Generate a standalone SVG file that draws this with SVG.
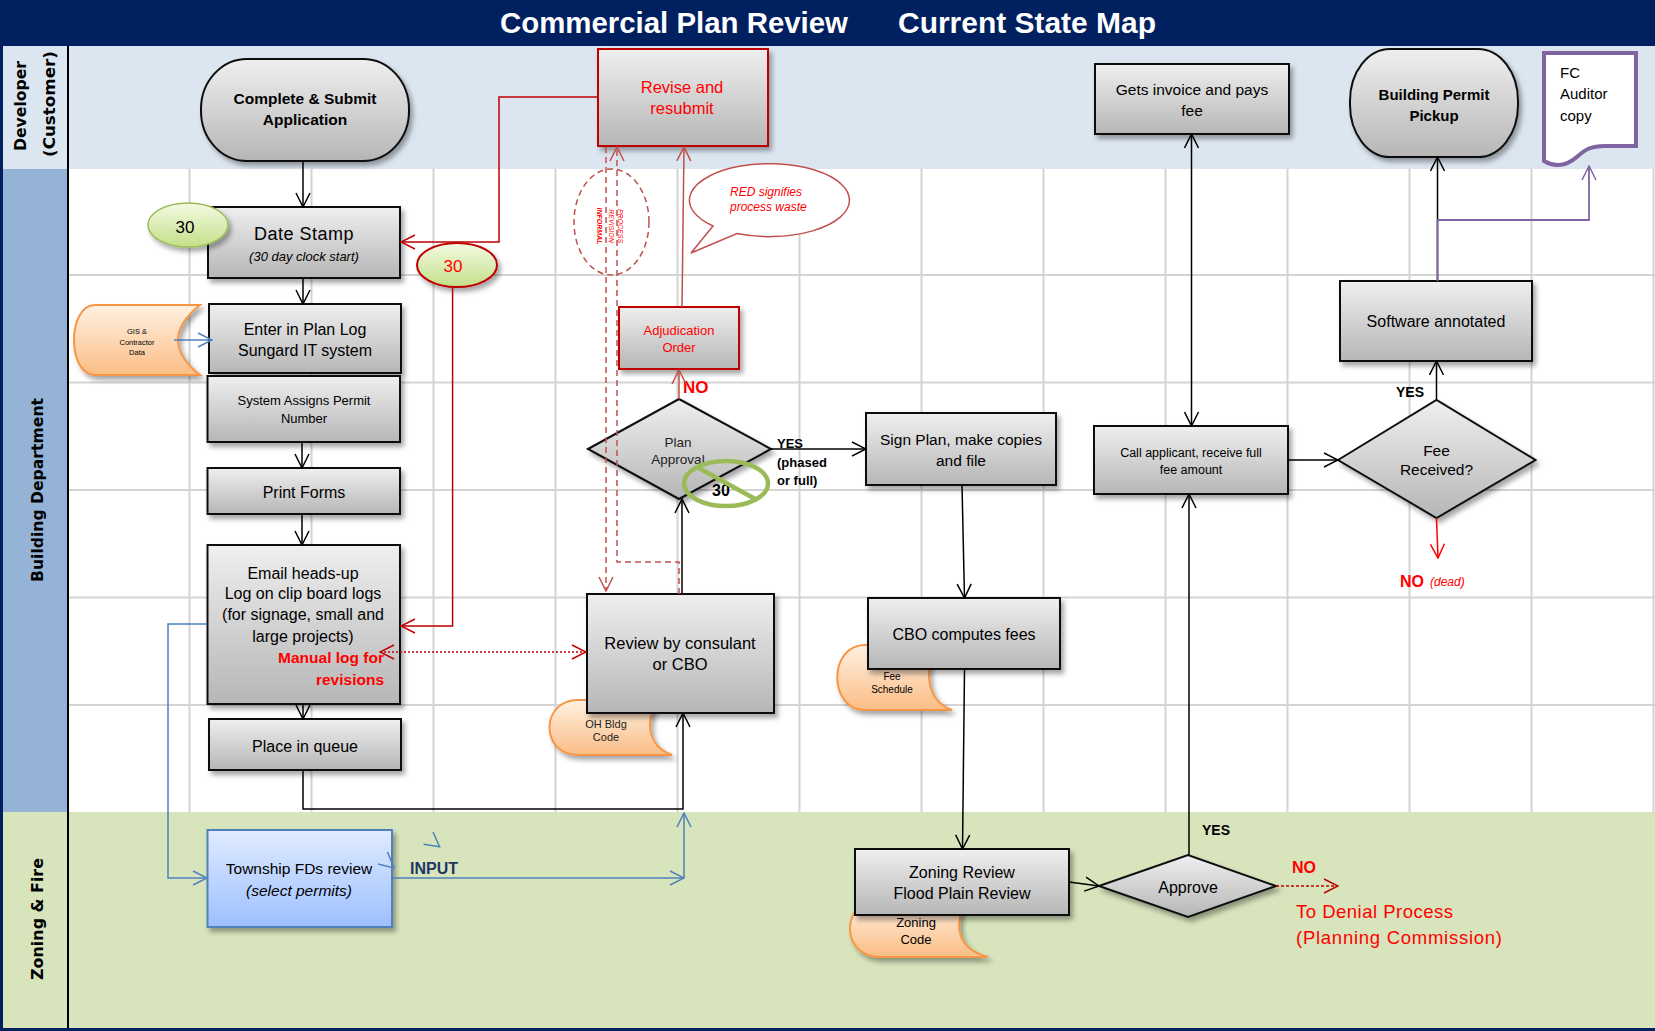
<svg xmlns="http://www.w3.org/2000/svg" width="1655" height="1031" viewBox="0 0 1655 1031">
<defs>
<linearGradient id="gBox" x1="0" y1="0" x2="0" y2="1"><stop offset="0" stop-color="#efefef"/><stop offset="1" stop-color="#b6b6b6"/></linearGradient>
<linearGradient id="gGreen" x1="0" y1="0" x2="0" y2="1"><stop offset="0" stop-color="#f4fae2"/><stop offset="1" stop-color="#c3df8a"/></linearGradient>
<linearGradient id="gOrange" x1="0" y1="0" x2="0" y2="1"><stop offset="0" stop-color="#fff1e2"/><stop offset="1" stop-color="#fbbd85"/></linearGradient>
<linearGradient id="gBlue" x1="0" y1="0" x2="0" y2="1"><stop offset="0" stop-color="#e0ebff"/><stop offset="1" stop-color="#9dbfff"/></linearGradient>
<filter id="sh" x="-10%" y="-10%" width="130%" height="140%"><feDropShadow dx="3" dy="4" stdDeviation="2.5" flood-color="#000" flood-opacity="0.35"/></filter>
<marker id="mk" viewBox="0 0 16 16" refX="15" refY="8" markerWidth="16" markerHeight="16" markerUnits="userSpaceOnUse" orient="auto-start-reverse"><path d="M1,1 L15,8 L1,15" fill="none" stroke="#000" stroke-width="1.5"/></marker>
<marker id="mkR" viewBox="0 0 16 16" refX="15" refY="8" markerWidth="16" markerHeight="16" markerUnits="userSpaceOnUse" orient="auto-start-reverse"><path d="M1,1 L15,8 L1,15" fill="none" stroke="#c00000" stroke-width="1.5"/></marker>
<marker id="mkRL" viewBox="0 0 16 16" refX="15" refY="8" markerWidth="16" markerHeight="16" markerUnits="userSpaceOnUse" orient="auto-start-reverse"><path d="M1,1 L15,8 L1,15" fill="none" stroke="#c0504d" stroke-width="1.5"/></marker>
<marker id="mkRB" viewBox="0 0 16 16" refX="15" refY="8" markerWidth="16" markerHeight="16" markerUnits="userSpaceOnUse" orient="auto-start-reverse"><path d="M1,1 L15,8 L1,15" fill="none" stroke="#ff0000" stroke-width="1.5"/></marker>
<marker id="mkB" viewBox="0 0 16 16" refX="15" refY="8" markerWidth="16" markerHeight="16" markerUnits="userSpaceOnUse" orient="auto-start-reverse"><path d="M1,1 L15,8 L1,15" fill="none" stroke="#4f81bd" stroke-width="1.5"/></marker>
<marker id="mkP" viewBox="0 0 16 16" refX="15" refY="8" markerWidth="16" markerHeight="16" markerUnits="userSpaceOnUse" orient="auto-start-reverse"><path d="M1,1 L15,8 L1,15" fill="none" stroke="#8064a2" stroke-width="1.5"/></marker>
<style>
text{font-family:"Liberation Sans",Arial,sans-serif;fill:#000;}
.box{fill:url(#gBox);stroke:#111;stroke-width:2;filter:url(#sh);}
.rbox{fill:url(#gBox);stroke:#c00000;stroke-width:2;filter:url(#sh);}
.data{fill:url(#gOrange);stroke:#f79646;stroke-width:2;filter:url(#sh);}
.c{text-anchor:middle;}
.b{font-weight:bold;}
.i{font-style:italic;}
.red{fill:#ff0000;}
.lane{font-family:"DejaVu Sans",sans-serif;font-weight:bold;font-size:16px;text-anchor:middle;}
.grid{stroke:#d4d4d4;stroke-width:2;}
.cn{fill:none;stroke:#000;stroke-width:1.5;}
.cr{fill:none;stroke:#c00000;stroke-width:1.5;}
.crl{fill:none;stroke:#c0504d;stroke-width:1.5;}
.cb{fill:none;stroke:#4f81bd;stroke-width:1.5;}
</style>
</defs>

<g id="background">
<rect x="0" y="0" width="1655" height="46" fill="#002060"/>
<rect x="0" y="46" width="1655" height="123" fill="#dce6f1"/>
<rect x="0" y="169" width="1655" height="643" fill="#ffffff"/>
<rect x="0" y="169" width="68" height="643" fill="#95b3d7"/>
<rect x="0" y="812" width="1655" height="216" fill="#d7e4bc"/>
<rect x="0" y="1028" width="1655" height="3" fill="#002060"/>
<rect x="0" y="46" width="3" height="985" fill="#002060"/>
<text x="500" y="33" font-size="29" font-weight="bold" style="fill:#fff" textLength="348" lengthAdjust="spacingAndGlyphs">Commercial Plan Review</text>
<text x="898" y="33" font-size="29" font-weight="bold" style="fill:#fff" textLength="258" lengthAdjust="spacingAndGlyphs">Current State Map</text>
</g>

<g id="grid">
<line class="grid" x1="189.5" y1="169" x2="189.5" y2="812"/>
<line class="grid" x1="311.5" y1="169" x2="311.5" y2="812"/>
<line class="grid" x1="433.5" y1="169" x2="433.5" y2="812"/>
<line class="grid" x1="555.5" y1="169" x2="555.5" y2="812"/>
<line class="grid" x1="677.5" y1="169" x2="677.5" y2="812"/>
<line class="grid" x1="799.5" y1="169" x2="799.5" y2="812"/>
<line class="grid" x1="921.5" y1="169" x2="921.5" y2="812"/>
<line class="grid" x1="1043.5" y1="169" x2="1043.5" y2="812"/>
<line class="grid" x1="1165.5" y1="169" x2="1165.5" y2="812"/>
<line class="grid" x1="1287.5" y1="169" x2="1287.5" y2="812"/>
<line class="grid" x1="1409.5" y1="169" x2="1409.5" y2="812"/>
<line class="grid" x1="1531.5" y1="169" x2="1531.5" y2="812"/>
<line class="grid" x1="1653.5" y1="169" x2="1653.5" y2="812"/>
<line class="grid" x1="69" y1="275" x2="1655" y2="275"/>
<line class="grid" x1="69" y1="382.5" x2="1655" y2="382.5"/>
<line class="grid" x1="69" y1="490" x2="1655" y2="490"/>
<line class="grid" x1="69" y1="597.5" x2="1655" y2="597.5"/>
<line class="grid" x1="69" y1="705" x2="1655" y2="705"/>
</g>

<g id="lane-headers">
<line x1="68" y1="46" x2="68" y2="1028" stroke="#000" stroke-width="2"/>
<text class="lane" transform="translate(26,106) rotate(-90)" textLength="90" lengthAdjust="spacingAndGlyphs">Developer</text>
<text class="lane" transform="translate(55,104) rotate(-90)" textLength="106" lengthAdjust="spacingAndGlyphs">(Customer)</text>
<text class="lane" transform="translate(43,490) rotate(-90)" font-size="17" textLength="184" lengthAdjust="spacingAndGlyphs">Building Department</text>
<text class="lane" transform="translate(43,919) rotate(-90)" font-size="17" textLength="122" lengthAdjust="spacingAndGlyphs">Zoning  &amp; Fire</text>
</g>

<g id="node-complete-submit">
<rect class="box" x="201" y="59" width="208" height="102" rx="46" ry="50"/>
<text class="c b" x="305" y="104" font-size="15.5">Complete &amp; Submit</text>
<text class="c b" x="305" y="125" font-size="15.5">Application</text>
</g>

<g id="node-date-stamp">
<rect class="box" x="208" y="207" width="192" height="71"/>
<text class="c" x="304" y="239.5" font-size="18" letter-spacing="0.5">Date Stamp</text>
<text class="c i" x="304" y="261" font-size="13">(30 day clock start)</text>
</g>

<g id="node-30-green">
<ellipse cx="188" cy="225" rx="40" ry="22" fill="url(#gGreen)" stroke="#9bbb59" stroke-width="1.5" filter="url(#sh)"/>
<text class="c" x="185" y="233" font-size="17">30</text>
</g>

<g id="node-30-red">
<ellipse cx="457" cy="265" rx="40" ry="22" fill="url(#gGreen)" stroke="#c00000" stroke-width="2" filter="url(#sh)"/>
<text class="c red" x="453" y="272" font-size="17">30</text>
</g>

<g id="node-gis-data">
<path class="data" d="M95,305 H200 Q156,340 200,375 H95 C67,375 67,305 95,305 Z"/>
<text class="c" x="137" y="334" font-size="7.5">GIS &amp;</text>
<text class="c" x="137" y="344.5" font-size="7.5">Contractor</text>
<text class="c" x="137" y="355" font-size="7.5">Data</text>
</g>

<g id="node-enter-plan-log">
<rect class="box" x="209" y="304" width="192" height="69"/>
<text class="c" x="305" y="334.5" font-size="16">Enter in Plan Log</text>
<text class="c" x="305" y="355.5" font-size="16">Sungard IT system</text>
</g>

<g id="node-system-assigns">
<rect class="box" x="207.5" y="376" width="192.5" height="66"/>
<text class="c" x="304" y="405" font-size="13">System  Assigns Permit</text>
<text class="c" x="304" y="422.5" font-size="13">Number</text>
</g>

<g id="node-print-forms">
<rect class="box" x="207.5" y="468" width="192.5" height="46"/>
<text class="c" x="304" y="497.5" font-size="16">Print Forms</text>
</g>

<g id="node-email">
<rect class="box" x="207.5" y="545" width="192.5" height="159"/>
<text class="c" x="303" y="578.5" font-size="16">Email heads-up</text>
<text class="c" x="303" y="598.5" font-size="16">Log on clip board logs</text>
<text class="c" x="303" y="619.5" font-size="16">(for signage, small and</text>
<text class="c" x="303" y="641.5" font-size="16">large projects)</text>
<text class="b red" x="384" y="662.5" font-size="15.5" text-anchor="end">Manual log for</text>
<text class="b red" x="384" y="684.5" font-size="15.5" text-anchor="end">revisions</text>
</g>

<g id="node-place-queue">
<rect class="box" x="209" y="719" width="192" height="51"/>
<text class="c" x="305" y="751.5" font-size="16">Place in queue</text>
</g>

<g id="node-township">
<rect x="207.5" y="830" width="184.5" height="97" fill="url(#gBlue)" stroke="#4f81bd" stroke-width="2" filter="url(#sh)"/>
<text class="c" x="299" y="873.5" font-size="15.5">Township FDs review</text>
<text class="c i" x="299" y="895.5" font-size="15.5">(select permits)</text>
</g>

<g id="label-input">
<text class="b" x="410" y="873.5" font-size="16" style="fill:#1f3864">INPUT</text>
</g>

<g id="node-revise">
<rect class="rbox" x="598" y="49" width="170" height="97"/>
<text class="c red" x="682" y="93" font-size="16.5">Revise and</text>
<text class="c red" x="682" y="114" font-size="16.5">resubmit</text>
</g>

<g id="node-informal">
<ellipse cx="611.5" cy="222" rx="37.5" ry="53" fill="none" stroke="#c0504d" stroke-width="1.5" stroke-dasharray="6,4"/>
<text class="c b i red" transform="translate(597,226) rotate(90)" font-size="7">INFORMAL</text>
<text class="c i red" transform="translate(608.5,226) rotate(90)" font-size="7">REVISION</text>
<text class="c i red" transform="translate(618,226) rotate(90)" font-size="7">PROCESS</text>
</g>

<g id="node-red-note">
<path d="M713,226 L691,253 L737,233.5 A80,36.5 0 1 0 713,226 Z" fill="#fff" stroke="#c0504d" stroke-width="1.5"/>
<text class="i red" x="730" y="196" font-size="12">RED signifies</text>
<text class="i red" x="730" y="211" font-size="12">process waste</text>
</g>

<g id="node-adjudication">
<rect class="rbox" x="619" y="307" width="120" height="62"/>
<text class="c red" x="679" y="334.5" font-size="13">Adjudication</text>
<text class="c red" x="679" y="351.5" font-size="13">Order</text>
</g>

<g id="node-plan-approval">
<polygon class="box" points="588,449 679,399 771,449 679,499"/>
<text class="c" x="678" y="446.5" font-size="13.5" style="fill:#222">Plan</text>
<text class="c" x="678" y="463.5" font-size="13.5" style="fill:#222">Approval</text>
</g>

<g id="node-no-30">
<ellipse cx="726" cy="483.5" rx="42" ry="22.5" fill="none" stroke="#9bbb59" stroke-width="4.5"/>
<text class="c b" x="721" y="496" font-size="16">30</text>
<line x1="697" y1="467" x2="757" y2="500" stroke="#9bbb59" stroke-width="4.5"/>
</g>

<g id="label-yes-phased">
<text class="b" x="777" y="448" font-size="13">YES</text>
<text class="b" x="777" y="466.5" font-size="13">(phased</text>
<text class="b" x="777" y="485" font-size="13">or full)</text>
</g>

<g id="label-no-plan">
<text class="b red" x="683" y="392.5" font-size="17">NO</text>
</g>

<g id="node-oh-bldg">
<path class="data" d="M578,700 H660 C645,715 645,745 672,755 H578 C540,755 540,700 578,700 Z"/>
<text class="c" x="606" y="728" font-size="11" style="fill:#222">OH Bldg</text>
<text class="c" x="606" y="740.5" font-size="11" style="fill:#222">Code</text>
</g>

<g id="node-review">
<rect class="box" x="587" y="594" width="187" height="119"/>
<text class="c" x="680" y="649" font-size="16.5">Review by consulant</text>
<text class="c" x="680" y="670" font-size="16.5">or CBO</text>
</g>

<g id="node-sign-plan">
<rect class="box" x="866" y="413" width="190" height="72"/>
<text class="c" x="961" y="444.5" font-size="15.5">Sign Plan, make copies</text>
<text class="c" x="961" y="465.5" font-size="15.5">and file</text>
</g>

<g id="node-fee-schedule">
<path class="data" d="M865,645 H935 C925,670 925,700 952,710 H865 C828,710 828,645 865,645 Z"/>
<text class="c" x="892" y="680" font-size="10">Fee</text>
<text class="c" x="892" y="692.5" font-size="10">Schedule</text>
</g>

<g id="node-cbo-fees">
<rect class="box" x="868" y="598" width="192" height="71"/>
<text class="c" x="964" y="640" font-size="16">CBO computes fees</text>
</g>

<g id="node-zoning-code">
<path class="data" d="M880,900 H965 C955,925 955,948 988,957 H880 C840,957 840,900 880,900 Z"/>
<text class="c" x="916" y="927" font-size="13">Zoning</text>
<text class="c" x="916" y="943.5" font-size="13">Code</text>
</g>

<g id="node-zoning-review">
<rect class="box" x="855" y="849" width="214" height="66"/>
<text class="c" x="962" y="877.5" font-size="16">Zoning Review</text>
<text class="c" x="962" y="898.5" font-size="16">Flood Plain Review</text>
</g>

<g id="node-approve">
<polygon class="box" points="1099,886 1188,855 1276,886 1188,917"/>
<text class="c" x="1188" y="892.5" font-size="16">Approve</text>
</g>

<g id="label-approve-outcomes">
<text class="b" x="1202" y="834.5" font-size="14">YES</text>
<text class="b red" x="1292" y="873" font-size="16">NO</text>
<text class="red" x="1296" y="918" font-size="18.5" textLength="157">To Denial Process</text>
<text class="red" x="1296" y="944" font-size="18.5" textLength="206">(Planning Commission)</text>
</g>

<g id="node-gets-invoice">
<rect class="box" x="1095" y="64" width="194" height="70"/>
<text class="c" x="1192" y="94.5" font-size="15.5">Gets invoice and pays</text>
<text class="c" x="1192" y="115.5" font-size="15.5">fee</text>
</g>

<g id="node-call-applicant">
<rect class="box" x="1094" y="426" width="194" height="68"/>
<text class="c" x="1191" y="456.5" font-size="12.5">Call applicant, receive  full</text>
<text class="c" x="1191" y="473.5" font-size="12.5">fee amount</text>
</g>

<g id="node-fee-received">
<polygon class="box" points="1338,460 1436.5,400 1535.5,460 1436.5,518"/>
<text class="c" x="1436.5" y="455.5" font-size="15.5">Fee</text>
<text class="c" x="1436.5" y="474.5" font-size="15.5">Received?</text>
</g>

<g id="label-fee-outcomes">
<text class="b" x="1396" y="396.5" font-size="14">YES</text>
<text class="b red" x="1400" y="586.5" font-size="16">NO</text>
<text class="i red" x="1430" y="586" font-size="12">(dead)</text>
</g>

<g id="node-software">
<rect class="box" x="1340" y="281" width="192" height="80"/>
<text class="c" x="1436" y="326.5" font-size="16">Software annotated</text>
</g>

<g id="node-permit-pickup">
<rect class="box" x="1350" y="49" width="168" height="108" rx="40" ry="52"/>
<text class="c b" x="1434" y="99.5" font-size="15">Building Permit</text>
<text class="c b" x="1434" y="120.5" font-size="15">Pickup</text>
</g>

<g id="node-fc-auditor">
<path d="M1544,53 H1636 V146 H1605 C1590,146 1585,150 1578,156 C1568,165 1556,168 1544,161 Z" fill="#fff" stroke="#8064a2" stroke-width="4"/>
<text x="1560" y="78" font-size="15">FC</text>
<text x="1560" y="99" font-size="15">Auditor</text>
<text x="1560" y="121" font-size="15">copy</text>
</g>

<g id="connectors">
<path class="cn" d="M303,161 V207" marker-end="url(#mk)"/>
<path class="cn" d="M303,278 V304" marker-end="url(#mk)"/>
<path class="cn" d="M302,442 V468" marker-end="url(#mk)"/>
<path class="cn" d="M302,514 V545" marker-end="url(#mk)"/>
<path class="cn" d="M303,704 V719" marker-end="url(#mk)"/>
<path class="cn" d="M303,770 V809 H683 V713" marker-end="url(#mk)"/>
<path class="cn" d="M682,594 V499" marker-end="url(#mk)"/>
<path class="cn" d="M771,449 H866" marker-end="url(#mk)"/>
<path class="cn" d="M962,485 L964.5,598" marker-end="url(#mk)"/>
<path class="cn" d="M964.5,669 L962.5,849" marker-end="url(#mk)"/>
<path class="cn" d="M1069,882 L1099,886" marker-end="url(#mk)"/>
<path class="cn" d="M1189,855 V494" marker-end="url(#mk)"/>
<path class="cn" d="M1191.5,134 V426" marker-start="url(#mk)" marker-end="url(#mk)"/>
<path class="cn" d="M1288,460 H1338" marker-end="url(#mk)"/>
<path class="cn" d="M1436.5,400 V361" marker-end="url(#mk)"/>
<path class="cn" d="M1437.5,281 V157" marker-end="url(#mk)"/>
<path d="M1437.5,281 V220 H1589 V166" fill="none" stroke="#8064a2" stroke-width="1.8" marker-end="url(#mkP)"/>
<path d="M1436.5,518 L1438,558" fill="none" stroke="#ff0000" stroke-width="1.5" marker-end="url(#mkRB)"/>
<path class="cr" d="M1276,886 H1338" stroke-dasharray="3,2" marker-end="url(#mkR)"/>
<path class="crl" d="M679,399 V370" marker-end="url(#mkRL)"/>
<path class="crl" d="M682,307 L684,147" marker-end="url(#mkRL)"/>
<path class="cr" d="M598,97 H499 V242 H401" marker-end="url(#mkR)"/>
<path class="cr" d="M452.6,287 V626 H401" marker-end="url(#mkR)"/>
<path class="crl" d="M606,147 V591" stroke-dasharray="6,4" marker-end="url(#mkRL)"/>
<path class="crl" d="M679,594 V562 H617 V147" stroke-dasharray="6,4" marker-end="url(#mkRL)"/>
<path class="cr" d="M380,652 H586" stroke-dasharray="2,2" marker-start="url(#mkR)" marker-end="url(#mkR)"/>
<path class="cb" d="M207,624 H168 V878 H207" marker-end="url(#mkB)"/>
<path class="cb" d="M392,878 H684" marker-end="url(#mkB)"/>
<path class="cb" d="M684,878 V813" marker-end="url(#mkB)"/>
<path class="cb" d="M174,340 H212" marker-end="url(#mkB)"/>
<polyline class="cb" points="433,832 439.6,846.7 423.6,844.3"/>
<polyline class="cb" points="387.5,852 394,868 378,864"/>
</g>
</svg>
